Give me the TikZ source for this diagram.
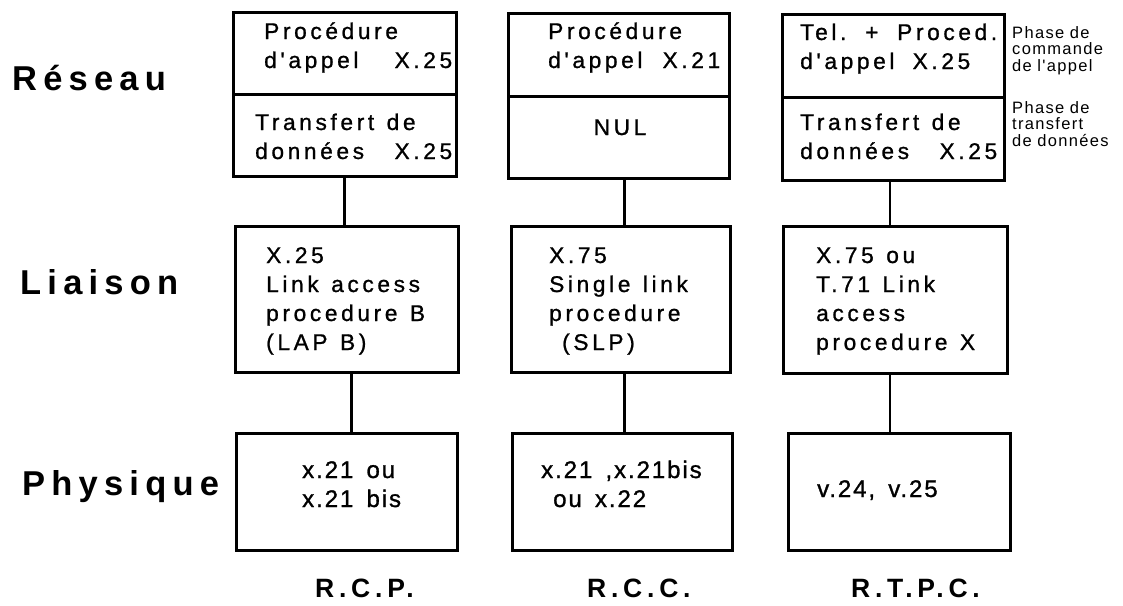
\documentclass[tikz,border=0pt]{standalone}
\usepackage{fontspec}
\setmainfont{Liberation Sans}
\newfontfamily\wide[LetterSpace=16,FakeBold=1]{Liberation Sans}
\newfontfamily\slim[LetterSpace=8,FakeBold=1.2]{Liberation Sans}
\newfontfamily\heavy[LetterSpace=18]{Liberation Sans}
\newfontfamily\note[LetterSpace=8]{Liberation Sans}
\usetikzlibrary{positioning}
\newcommand{\pr}{\hskip 0pt plus 1fill\relax}
\newcommand{\ws}{\hspace{0.55em}}
\newcommand{\boxtxt}{\wide\fontsize{22.7}{29}\selectfont}
\newcommand{\phystxt}{\slim\fontsize{24}{29}\selectfont}
\tikzset{
  cell/.style={draw,line width=3pt,inner sep=0pt},
  link/.style={line width=2.2pt},
  txt/.style={anchor=base west,inner sep=0pt,align=left,font=\boxtxt}
}

\begin{document}
\begin{tikzpicture}[x=1pt,y=-1pt,
  layer/.style={anchor=base west,inner sep=0pt,font=\heavy\bfseries\fontsize{34.5}{40}\selectfont},
  net/.style={anchor=base west,inner sep=0pt,font=\heavy\bfseries\fontsize{26.5}{30}\selectfont},
  phys/.style={txt,font=\phystxt},
  side/.style={anchor=base west,inner sep=0pt,align=left,text width=110,
    font=\note\fontsize{16.5}{16.5}\selectfont}]
\useasboundingbox (0,0) rectangle (1123,605);
% colonne R.C.P.
\node[cell,minimum width=223,minimum height=82] (N1a) at (344.5,53) {};
\node[cell,minimum width=223,minimum height=82] (N1b) at (344.5,135) {};
\node[cell,minimum width=223,minimum height=146] (L1) at (346.5,299) {};
\node[cell,minimum width=221,minimum height=117] (P1) at (346.5,491.5) {};
% colonne R.C.C.
\node[cell,minimum width=221,minimum height=83] (N2a) at (618.5,54.5) {};
\node[cell,minimum width=221,minimum height=82] (N2b) at (618.5,137) {};
\node[cell,minimum width=219,minimum height=146] (L2) at (620.5,299) {};
\node[cell,minimum width=220,minimum height=117] (P2) at (622,491.5) {};
% colonne R.T.P.C.
\node[cell,minimum width=222,minimum height=83] (N3a) at (893,55.5) {};
\node[cell,minimum width=222,minimum height=83] (N3b) at (893,138.5) {};
\node[cell,minimum width=224,minimum height=147] (L3) at (895,299.5) {};
\node[cell,minimum width=222,minimum height=117] (P3) at (899,491.5) {};
% liens verticaux
\draw[link] (N1b.south) -- (N1b.south |- L1.north);
\draw[link] ([xshift=5]L1.south) -- ([xshift=5]L1.south |- P1.north);
\draw[link] ([xshift=6]N2b.south) -- ([xshift=6]N2b.south |- L2.north);
\draw[link] ([xshift=4]L2.south) -- ([xshift=4]L2.south |- P2.north);
\draw[link] ([xshift=-3]N3b.south) -- ([xshift=-3]N3b.south |- L3.north);
\draw[link] ([xshift=-5]L3.south) -- ([xshift=-5]L3.south |- P3.north);
% textes des couches
\node[txt,text width=188] (t1a) at (264,39) {Procédure\\d'appel\pr X.25};
\node[txt,text width=197] (t1b) at (255,130) {Transfert\ws de\\données\pr X.25};
\node[txt,text width=172] (t2a) at (548,39) {Procédure\\d'appel\pr X.21};
\node[txt,anchor=base] (t2b) at (620,135) {NUL};
\node[txt,text width=197] (t3a) at (800,40) {Tel.\pr +\pr Proced.\\d'appel\hspace{0.8em}X.25};
\node[txt,text width=197] (t3b) at (800,130) {Transfert\ws de\\données\pr X.25};
\node[txt,text width=180] (u1) at (266,263) {X.25\\Link\ws access\\procedure\ws B\\(LAP\ws B)};
\node[txt,text width=170] (u2) at (549,263) {X.75\\Single\ws link\\procedure\\\hspace{13pt}(SLP)};
\node[txt,text width=180] (u3) at (816,263) {X.75\ws ou\\T.71\ws Link\\access\\procedure\ws X};
\node[phys,text width=150] (v1) at (302,478) {x.21\ws ou\\x.21\ws bis};
\node[phys,text width=185] (v2) at (541,478) {x.21\ws ,x.21bis\\\hspace{12pt}ou\ws x.22};
\node[phys,text width=170] (v3) at (817,497) {v.24,\ws v.25};
% notes de phase
\node[side] (s1) at (1012,38) {Phase de\\commande\\de l'appel};
\node[side] (s2) at (1012,113) {Phase de\\transfert\\de données};
% couches
\node[layer] (reseau) at (12,90) {Réseau};
\node[layer] (liaison) at (20,294) {Liaison};
\node[layer] (physique) at (22,495) {Physique};
% reseaux
\node[net] (rcp) at (315,597) {R.C.P.};
\node[net] (rcc) at (587,597) {R.C.C.};
\node[net] (rtpc) at (851,597) {R.T.P.C.};
\end{tikzpicture}
\end{document}
